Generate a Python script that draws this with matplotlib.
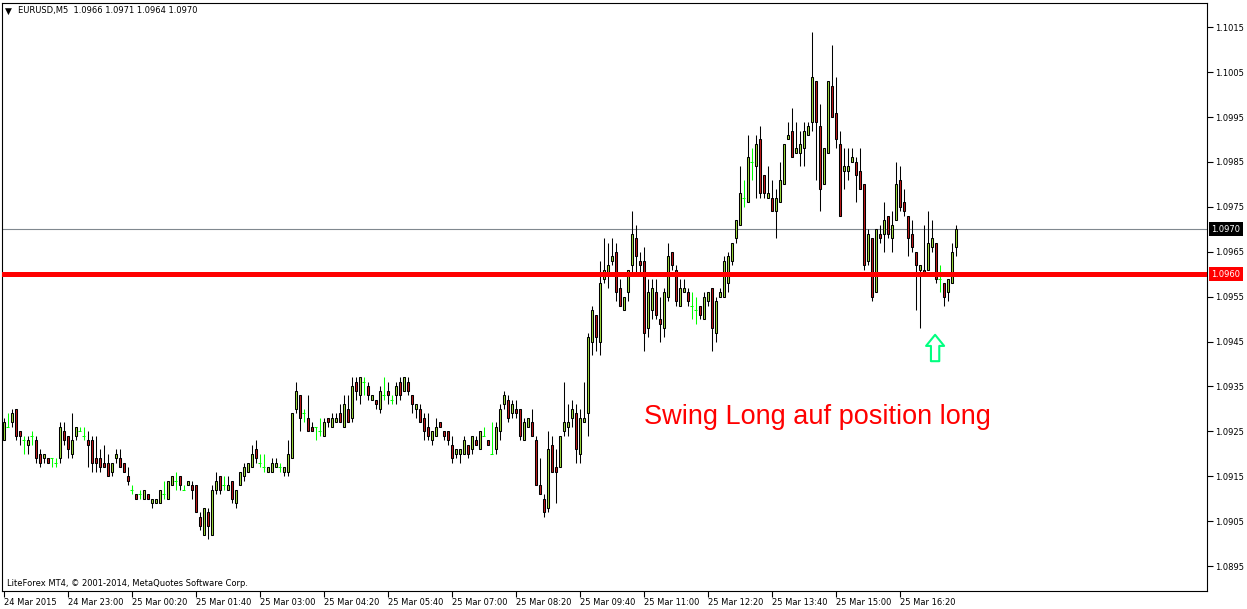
import numpy as np
import matplotlib.pyplot as plt
from matplotlib.transforms import blended_transform_factory

# EURUSD M5 candles, prices stored as pips above 1.0900
base = 1.0900
pip = 0.0001

open_pips = [
    23, 26, 27, 30, 25, 23, 22, 24, 23, 20,
    19, 19, 19, 18, 19, 25, 24, 20, 24, 25,
    24, 23, 23, 19, 19, 18, 18, 16, 19, 19,
    18, 15, 12, 11, 11, 10, 11, 9, 9, 9,
    11, 10, 13, 14, 15, 12, 13, 13, 13, 6,
    2, 7, 2, 12, 15, 13, 12, 14, 9, 13,
    15, 16, 17, 21, 18, 17, 16, 16, 17, 17,
    16, 16, 19, 30, 33, 29, 28, 26, 26, 25,
    24, 28, 26, 27, 29, 26, 30, 28, 36, 33,
    36, 35, 32, 32, 30, 33, 34, 32, 33, 36,
    34, 36, 33, 30, 30, 28, 26, 23, 24, 27,
    25, 25, 22, 20, 20, 20, 22, 21, 23, 21,
    24, 23, 20, 21, 25, 31, 32, 29, 30, 30,
    23, 26, 27, 23, 13, 10, 8, 22, 17, 17,
    25, 26, 28, 29, 20, 27, 29, 45, 51, 45,
    59, 60, 63, 65, 57, 52, 56, 62, 68, 63,
    63, 48, 52, 56, 50, 48, 55, 65, 61, 53,
    56, 56, 53, 52, 53, 50, 54, 57, 47, 55,
    55, 58, 63, 68, 71, 77, 76, 85, 84, 90,
    82, 77, 77, 74, 76, 80, 90, 92, 87, 87,
    88, 91, 94, 103, 93, 80, 87, 102, 96, 89,
    83, 83, 85, 85, 83, 80, 63, 68, 56, 69,
    69, 73, 68, 72, 81, 76, 73, 69, 65, 61,
    61, 61, 66, 67, 59, 58, 56, 58, 66,
]
high_pips = [
    28, 29, 30, 30, 25, 24, 24, 25, 24, 21,
    20, 19, 19, 19, 27, 27, 24, 29, 26, 26,
    26, 25, 24, 24, 21, 22, 20, 18, 21, 21,
    18, 17, 13, 11, 12, 12, 11, 10, 10, 12,
    14, 14, 15, 16, 15, 13, 14, 14, 13, 7,
    8, 8, 13, 16, 15, 15, 15, 14, 12, 16,
    18, 18, 22, 23, 20, 20, 17, 19, 19, 18,
    17, 23, 29, 36, 33, 30, 33, 27, 26, 28,
    28, 28, 29, 29, 31, 33, 33, 37, 37, 37,
    37, 36, 33, 32, 35, 37, 36, 33, 36, 37,
    37, 37, 33, 31, 31, 29, 29, 25, 28, 27,
    25, 25, 24, 21, 21, 24, 22, 24, 24, 25,
    26, 23, 27, 27, 31, 34, 33, 32, 32, 30,
    28, 28, 30, 24, 19, 11, 25, 24, 21, 24,
    36, 31, 32, 31, 30, 36, 47, 53, 51, 63,
    68, 67, 68, 67, 59, 55, 61, 74, 71, 65,
    66, 59, 59, 59, 55, 57, 67, 65, 62, 59,
    59, 57, 56, 55, 53, 56, 56, 57, 55, 57,
    64, 65, 67, 72, 84, 81, 91, 88, 91, 93,
    82, 84, 81, 79, 85, 89, 94, 97, 94, 92,
    94, 94, 114, 103, 98, 88, 103, 111, 104, 92,
    88, 88, 88, 86, 88, 80, 70, 68, 70, 71,
    76, 73, 74, 85, 84, 79, 73, 72, 65, 62,
    71, 74, 72, 67, 62, 58, 59, 67, 71,
]
low_pips = [
    23, 26, 26, 23, 22, 20, 20, 22, 18, 17,
    18, 18, 17, 17, 18, 22, 19, 19, 23, 25,
    23, 17, 16, 16, 16, 17, 15, 15, 18, 17,
    16, 13, 11, 10, 10, 10, 10, 8, 9, 9,
    10, 10, 13, 12, 12, 12, 13, 10, 7, 3,
    2, 1, 2, 11, 11, 12, 12, 9, 8, 13,
    14, 16, 17, 18, 17, 16, 16, 16, 17, 16,
    15, 15, 19, 29, 25, 27, 25, 25, 23, 24,
    24, 26, 26, 27, 27, 26, 27, 27, 32, 31,
    33, 32, 32, 30, 29, 32, 31, 31, 31, 32,
    34, 33, 29, 28, 27, 23, 23, 22, 24, 26,
    23, 22, 18, 19, 18, 20, 19, 20, 22, 21,
    24, 22, 20, 20, 23, 30, 27, 28, 28, 23,
    23, 26, 24, 13, 11, 6, 7, 16, 9, 17,
    24, 24, 26, 18, 18, 27, 24, 42, 43, 42,
    58, 57, 62, 54, 53, 52, 54, 60, 60, 60,
    43, 46, 50, 50, 45, 46, 54, 61, 53, 53,
    56, 53, 50, 49, 50, 50, 53, 43, 45, 55,
    55, 56, 62, 67, 71, 75, 76, 81, 77, 77,
    77, 77, 74, 68, 76, 80, 90, 86, 87, 84,
    84, 91, 92, 81, 74, 80, 87, 95, 88, 73,
    79, 81, 85, 76, 79, 61, 62, 54, 56, 67,
    65, 68, 65, 72, 74, 73, 64, 65, 52, 48,
    60, 61, 65, 58, 56, 53, 54, 58, 64,
]
close_pips = [
    27, 26, 29, 24, 24, 23, 23, 24, 19, 18,
    20, 18, 19, 18, 26, 23, 21, 23, 26, 25,
    24, 22, 18, 18, 17, 17, 15, 18, 20, 17,
    16, 14, 12, 10, 11, 12, 10, 10, 10, 12,
    11, 14, 15, 14, 13, 12, 14, 12, 7, 4,
    8, 4, 12, 14, 12, 13, 13, 10, 12, 16,
    17, 18, 20, 19, 18, 17, 17, 18, 18, 17,
    17, 20, 29, 34, 28, 29, 25, 25, 26, 25,
    27, 27, 28, 28, 27, 31, 27, 35, 34, 37,
    36, 33, 33, 31, 34, 33, 33, 32, 35, 33,
    37, 34, 31, 31, 27, 25, 24, 25, 26, 26,
    24, 23, 19, 21, 21, 23, 20, 24, 22, 25,
    24, 22, 20, 26, 30, 33, 28, 31, 29, 24,
    27, 28, 24, 13, 11, 7, 21, 16, 16, 24,
    27, 27, 30, 21, 28, 28, 46, 52, 46, 58,
    61, 62, 64, 56, 53, 55, 61, 69, 64, 62,
    47, 56, 57, 51, 49, 56, 64, 62, 54, 57,
    57, 54, 53, 52, 51, 55, 56, 48, 54, 56,
    63, 64, 67, 72, 78, 77, 86, 85, 89, 78,
    78, 78, 74, 77, 81, 89, 91, 86, 88, 89,
    92, 93, 104, 94, 79, 88, 103, 95, 90, 73,
    84, 84, 86, 82, 79, 62, 69, 55, 70, 68,
    72, 69, 71, 80, 75, 74, 68, 66, 62, 62,
    60, 67, 68, 59, 59, 55, 59, 65, 70,
]

tick_index = [0, 16, 32, 48, 64, 80, 96, 112, 128, 144, 160, 176, 192, 208, 224]
tick_labels = ["24 Mar 2015", "24 Mar 23:00", "25 Mar 00:20", "25 Mar 01:40",
               "25 Mar 03:00", "25 Mar 04:20", "25 Mar 05:40", "25 Mar 07:00",
               "25 Mar 08:20", "25 Mar 09:40", "25 Mar 11:00", "25 Mar 12:20",
               "25 Mar 13:40", "25 Mar 15:00", "25 Mar 16:20"]
price_ticks = [1.0895, 1.0905, 1.0915, 1.0925, 1.0935, 1.0945, 1.0955,
               1.0965, 1.0975, 1.0985, 1.0995, 1.1005, 1.1015]
bid_price = 1.0970
level_price = 1.0960
header = "EURUSD,M5  1.0966 1.0971 1.0964 1.0970"

BULL = "#9CDB3A"
BEAR = "#C01818"
DOJI = "#00FF00"

op = np.array(open_pips)
hp = np.array(high_pips)
lp = np.array(low_pips)
cp = np.array(close_pips)
o = base + op * pip
h = base + hp * pip
l = base + lp * pip
c = base + cp * pip
x = np.arange(len(o))

doji = op == cp
bull = cp > op
bear = cp < op

fig = plt.figure(figsize=(12.47, 6.09), dpi=100)
ax = fig.add_axes([2 / 1247, 18 / 609, 1205 / 1247, 588 / 609])

ax.axhline(bid_price, color="#80888f", lw=0.8, zorder=1)

wick_colors = np.where(doji, DOJI, "black")
ax.vlines(x, l, h, colors=wick_colors, linewidth=0.75, zorder=2)
ax.bar(x[bull], (c - o)[bull], bottom=o[bull], width=0.5, color=BULL,
       edgecolor="black", linewidth=0.75, zorder=3)
ax.bar(x[bear], (o - c)[bear], bottom=c[bear], width=0.5, color=BEAR,
       edgecolor="black", linewidth=0.75, zorder=3)
ax.hlines(c[doji], x[doji] - 0.4, x[doji] + 0.4, colors=DOJI, linewidth=0.75, zorder=3)

ax.axhline(level_price, color="#ff0000", lw=3.6, zorder=4)

ax.set_xlim(-0.375, -0.375 + 1205 / 4)
ax.set_ylim(base - 10.56 * pip, base + 120.4 * pip)

ax.yaxis.tick_right()
ax.set_yticks(price_ticks)
ax.set_yticklabels([f"{p:.4f}" for p in price_ticks])
ax.tick_params(axis="y", length=4, width=0.8, pad=2, labelsize=6)
ax.set_xticks(tick_index)
ax.set_xticklabels(tick_labels, ha="left")
ax.tick_params(axis="x", length=4, width=0.8, pad=1, labelsize=6)
for s in ax.spines.values():
    s.set_linewidth(0.8)

# price boxes on the right scale
bt = blended_transform_factory(ax.transAxes, ax.transData)
ax.text(1 + 4 / 1205, bid_price, f"{bid_price:.4f}", transform=bt, color="white",
        fontsize=6, va="center", ha="left", clip_on=False,
        bbox=dict(boxstyle="square,pad=0.3", fc="black", ec="none"))
ax.text(1 + 4 / 1205, level_price, f"{level_price:.4f}", transform=bt, color="white",
        fontsize=6, va="center", ha="left", clip_on=False,
        bbox=dict(boxstyle="square,pad=0.3", fc="#ff0000", ec="none"))

ax.text(3 / 1205, 580 / 588, "\u25bc", transform=ax.transAxes, fontsize=6.5,
        va="center", ha="left")
ax.text(16 / 1205, 580 / 588, header, transform=ax.transAxes, fontsize=6,
        va="center", ha="left")
ax.text(5 / 1205, 8 / 588, "LiteForex MT4, \u00a9 2001-2014, MetaQuotes Software Corp.",
        transform=ax.transAxes, fontsize=6, va="center", ha="left")

ax.text(160.0, base + 28.3 * pip, "Swing Long auf position long", color="#ff0000",
        fontsize=19.5, family="Liberation Sans", va="center", ha="left")

ax.annotate("", xy=(232.9, base + 46.5 * pip), xytext=(0, -19),
            textcoords="offset points",
            arrowprops=dict(arrowstyle="simple,head_length=0.8,head_width=1.3,tail_width=0.6",
                            mutation_scale=10, fc="white", ec="#00ff80", lw=1.5,
                            shrinkA=0, shrinkB=0))

fig.savefig("out.png", dpi=100)
